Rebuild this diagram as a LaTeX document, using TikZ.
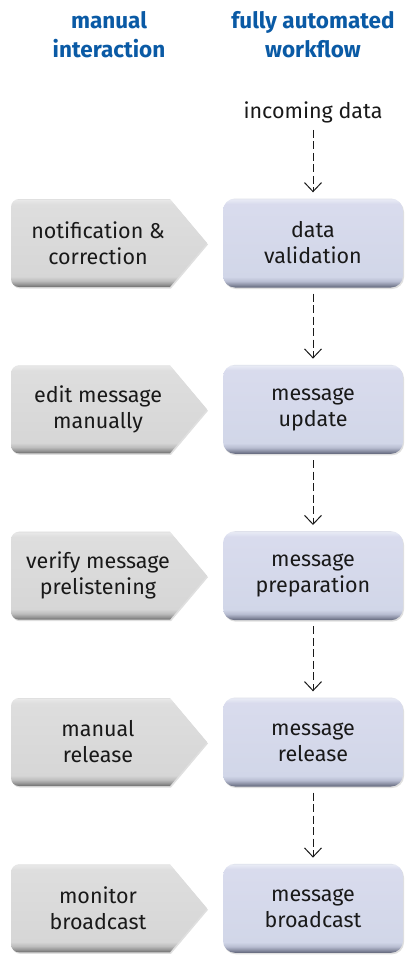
\documentclass[tikz,border=0pt]{standalone}
\usepackage{fontspec}
\setmainfont{Fira Sans}
\usetikzlibrary{arrows.meta,shadows}
\definecolor{hdrblue}{RGB}{10,90,165}
\definecolor{txt}{RGB}{25,25,25}
\pgfdeclareverticalshading{bluesh}{100bp}{%
 rgb(0bp)=(0.37,0.39,0.47); rgb(25bp)=(0.37,0.39,0.47);
 rgb(26.5bp)=(0.53,0.55,0.63); rgb(28.5bp)=(0.72,0.74,0.82);
 rgb(31bp)=(0.82,0.84,0.91); rgb(72bp)=(0.85,0.86,0.93);
 rgb(74.5bp)=(0.91,0.92,0.96); rgb(75bp)=(0.88,0.89,0.93); rgb(100bp)=(0.88,0.89,0.93)}
\pgfdeclareverticalshading{graysh}{100bp}{%
 rgb(0bp)=(0.42,0.42,0.42); rgb(25bp)=(0.42,0.42,0.42);
 rgb(26.5bp)=(0.58,0.58,0.58); rgb(28.5bp)=(0.74,0.74,0.74);
 rgb(31bp)=(0.84,0.84,0.84); rgb(72bp)=(0.87,0.87,0.87);
 rgb(74.5bp)=(0.91,0.91,0.91); rgb(75bp)=(0.88,0.88,0.88); rgb(100bp)=(0.88,0.88,0.88)}
\tikzset{
 hdr/.style={align=center,text=hdrblue,font=\fontsize{22.5}{29}\selectfont\bfseries,inner sep=0pt},
 body/.style={align=center,text=txt,font=\fontsize{21.5}{26}\selectfont,inner sep=0pt},
 autobox/.style={rounded corners=12pt,minimum width=180pt,minimum height=89pt,shading=bluesh,
   drop shadow={shadow xshift=1pt,shadow yshift=-1.5pt,opacity=0.25},
   body},
 manbox/.style={shading=graysh,drop shadow={shadow xshift=1pt,shadow yshift=-1.5pt,opacity=0.25}},
 flow/.style={draw=txt,line width=1pt,dash pattern=on 8pt off 3.5pt,
   -{Straight Barb[length=9pt,width=17pt,line width=1pt]}}
}
\begin{document}
\begin{tikzpicture}[x=1pt,y=-1pt]
\useasboundingbox (0,0) rectangle (406,956);
\node[hdr] (hl) at (109,35) {manual\\interaction};
\node[hdr] (hr) at (313,35) {fully automated\\workflow};
\node[body,anchor=base] (in) at (313,118) {incoming data};
\foreach \i/\y/\l/\r in {1/243/{notification \&\\correction}/{data\\validation},
  2/409.3/{edit message\\manually}/{message\\update},
  3/575.7/{verify message\\prelistening}/{message\\preparation},
  4/742/{manual\\release}/{message\\release},
  5/908.3/{monitor\\broadcast}/{message\\broadcast}}{
  \path[manbox] (170,\y-44) -- (207,\y) -- (170,\y+44) [rounded corners=8pt] -- (11,\y+44) -- (11,\y-44) [sharp corners] -- cycle;
  \node[body] (m\i) at (98,\y) {\l};
  \node[autobox] (b\i) at (313,\y) {\r};
}
\draw[flow,shorten <=7pt,shorten >=6pt] (in.south) -- (b1.north);
\foreach \i/\j in {1/2,2/3,3/4,4/5}{
  \draw[flow,shorten <=6pt,shorten >=6pt] (b\i.south) -- (b\j.north);
}
\end{tikzpicture}
\end{document}
